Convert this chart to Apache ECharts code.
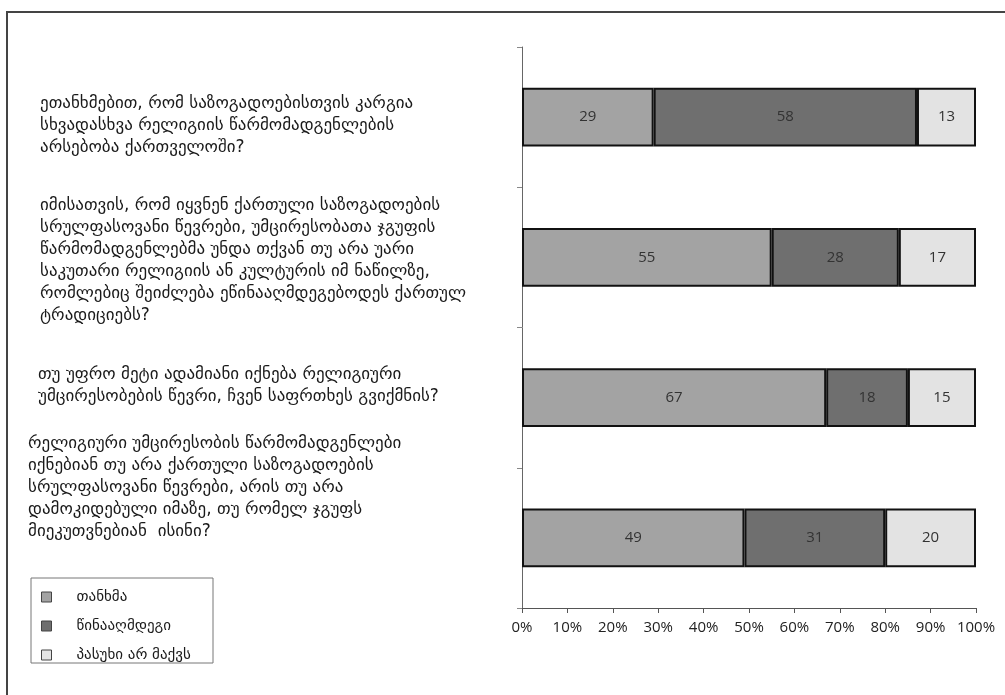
<!DOCTYPE html>
<html>
<head>
<meta charset="utf-8">
<script src="https://cdn.jsdelivr.net/npm/echarts@6/dist/echarts.min.js"></script>
<style>
html,body{margin:0;padding:0;background:#fff;}
#main{width:1005px;height:695px;}
</style>
</head>
<body>
<div id="main"></div>
<script>
const questions = [
  "ეთანხმებით, რომ საზოგადოებისთვის კარგია\nსხვადასხვა რელიგიის წარმომადგენლების\nარსებობა ქართველოში?",
  "იმისათვის, რომ იყვნენ ქართული საზოგადოების\nსრულფასოვანი წევრები, უმცირესობათა ჯგუფის\nწარმომადგენლებმა უნდა თქვან თუ არა უარი\nსაკუთარი რელიგიის ან კულტურის იმ ნაწილზე,\nრომლებიც შეიძლება ეწინააღმდეგებოდეს ქართულ\nტრადიციებს?",
  "თუ უფრო მეტი ადამიანი იქნება რელიგიური\nუმცირესობების წევრი, ჩვენ საფრთხეს გვიქმნის?",
  "რელიგიური უმცირესობის წარმომადგენლები\nიქნებიან თუ არა ქართული საზოგადოების\nსრულფასოვანი წევრები, არის თუ არა\nდამოკიდებული იმაზე, თუ რომელ ჯგუფს\nმიეკუთვნებიან  ისინი?"
];
const seriesNames = ["თანხმა", "წინააღმდეგი", "პასუხი არ მაქვს"];
const agreeValues = [29, 55, 67, 49];
const againstValues = [58, 28, 18, 31];
const noAnswerValues = [13, 17, 15, 20];
const xTicks = [0, 10, 20, 30, 40, 50, 60, 70, 80, 90, 100];

const colors = ["#a3a3a3", "#6f6f6f", "#e3e3e3"];
const valueSets = [agreeValues, againstValues, noAnswerValues];

const chart = echarts.init(document.getElementById('main'));

// text layout (left x, top y) of each question block
const qLayout = [[40, 93], [40, 195], [38, 364], [28, 433]];
const graphics = [
  {type:'polyline', shape:{points:[[7,700],[7,12],[1010,12]]}, style:{stroke:'#444', lineWidth:2, fill:null}, silent:true},
  {type:'rect', shape:{x:31, y:578, width:182, height:85}, style:{stroke:'#777', lineWidth:1, fill:'#fff'}, z:-1}
];
questions.forEach((q, i) => {
  graphics.push({
    type:'text', left:qLayout[i][0], top:qLayout[i][1],
    style:{text:q, font:'17px "DejaVu Sans"', fill:'#1a1a1a', lineHeight:22}
  });
});

chart.setOption({
  animation:false,
  backgroundColor:'#fff',
  grid:{left:522, right:29, top:47, bottom:87, containLabel:false},
  legend:{
    orient:'vertical', left:36, top:584,
    itemWidth:10, itemHeight:10, itemGap:13, icon:'rect',
    data:seriesNames,
    itemStyle:{borderColor:'#444', borderWidth:1},
    textStyle:{fontFamily:'DejaVu Sans', fontSize:15, color:'#1a1a1a', padding:[0,0,0,20], lineHeight:16}
  },
  xAxis:{
    type:'value', min:0, max:100, interval:10,
    axisLine:{show:true, lineStyle:{color:'#555', width:1}},
    axisTick:{show:true, length:5, lineStyle:{color:'#555'}},
    splitLine:{show:false},
    axisLabel:{formatter:'{value}%', fontFamily:'Open Sans', fontSize:15, color:'#222', margin:12,
      customValues: xTicks}
  },
  yAxis:{
    type:'category', data:questions, inverse:true, boundaryGap:true,
    axisLine:{show:true, lineStyle:{color:'#666', width:1}},
    axisTick:{show:true, length:5, lineStyle:{color:'#888'}},
    axisLabel:{show:false}
  },
  series: valueSets.map((vals, i) => ({
    name:seriesNames[i], type:'bar', stack:'total', data:vals, barWidth:'42%',
    itemStyle:{color:colors[i], borderColor:'#111', borderWidth:2},
    label:{show:true, position:'inside', color:'#333', fontFamily:'Open Sans', fontSize:15}
  })),
  graphic:graphics
});
</script>
</body>
</html>
